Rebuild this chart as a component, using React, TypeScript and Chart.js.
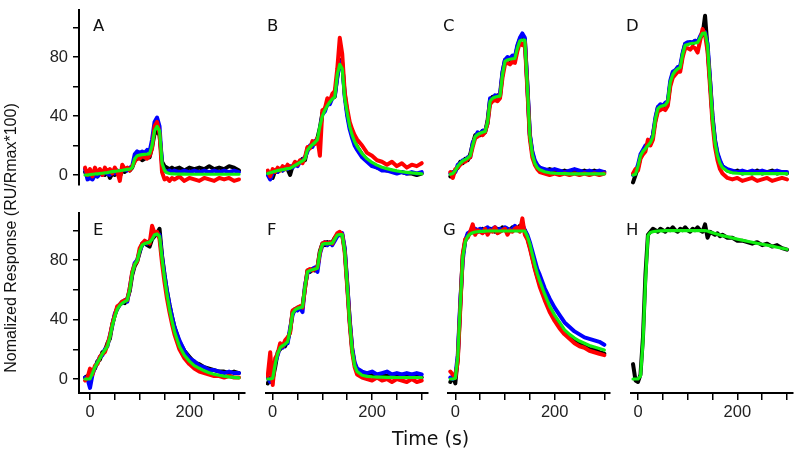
import React, { useEffect, useRef } from 'react';
import { Chart, registerables } from 'chart.js';

Chart.register(...registerables);

// time grid (s)
const T = [
  -10, -5, 0, 5, 10, 15, 20, 25, 30, 35,
  40, 45, 50, 55, 60, 65, 70, 75, 80, 85,
  90, 95, 100, 105, 110, 115, 120, 125, 130, 135,
  140, 145, 150, 155, 160, 165, 170, 180, 190, 200,
  210, 220, 230, 240, 250, 260, 270, 280, 290, 300,
];

const A_FIT = [
  0, 0, 0.3, 0.5, 0.7, 0.8, 1, 1.2, 1.4, 1.6,
  2, 2.3, 2.5, 2.7, 3, 3.2, 3.5, 3.8, 4, 5,
  11, 13, 13.5, 13.8, 14, 14.2, 14.5, 20, 30, 33,
  30, 8, 3, 1.5, 1, 0.8, 0.7, 0.6, 0.6, 0.5,
  0.5, 0.5, 0.5, 0.5, 0.5, 0.5, 0.5, 0.5, 0.5, 0.5,
];
const A_BLACK = [
  2, -1, 1, 0, 2, -1, 1, 2, 0, 3,
  -2, 1, 0, 2, -1, 3, 2, 4, 3, 5,
  10, 11, 12, 10, 11, 13, 12, 19, 28, 30,
  27, 9, 6, 5, 4, 5, 4, 5, 3, 5,
  4, 5, 4, 6, 4, 5, 4, 6, 5, 3,
];
const A_BLUE = [
  4, -3, -2, -3, 0, -1, 1, 0, 2, 1,
  0, 2, 1, 3, 2, 3, 4, 3, 5, 6,
  14, 16, 15, 16, 15, 17, 16, 24, 36, 39,
  33, 7, 3, 2, 3, 2, 3, 2, 3, 2,
  3, 2, 3, 2, 3, 2, 3, 2, 3, 2,
];
const A_RED = [
  5, 0, 4, -1, 5, 1, 4, 0, 5, 2,
  4, 1, 5, 2, -4, 7, 4, 5, 3, 6,
  9, 12, 11, 13, 12, 11, 13, 18, 33, 36,
  28, 2, -3, -2, -4, -2, -3, -1, -4, -2,
  -3, -4, -2, -3, -4, -2, -3, -2, -4, -3,
];

const B_FIT = [
  1, 1.5, 2, 2.5, 3, 3.3, 3.6, 4, 4.3, 4.6,
  5.5, 6.5, 7.5, 8.5, 9.5, 11, 17, 19, 20.5, 22,
  24, 33, 40, 44, 47, 49.5, 51.5, 53, 68, 75,
  72, 52, 42, 33, 27, 22.5, 19.5, 14.5, 11, 8.5,
  6.7, 5.3, 4.3, 3.5, 2.8, 2.2, 1.8, 1.4, 1.1, 0.8,
];
const B_BLACK = [
  1, 0, -2, 3, 2, 4, 3, 5, 4, 0,
  6, 7, 8, 9, 11, 10, 18, 19, 21, 22,
  25, 32, 42, 45, 48, 50, 52, 53, 67, 78,
  75, 55, 42, 33, 27, 22, 19, 14, 10, 7,
  5, 4, 3, 3, 2, 2, 1, 1, 0, 1,
];
const B_BLUE = [
  0, -3, 1, 3, 2, 4, 3, 5, 4, 6,
  5, 7, 6, 9, 10, 12, 16, 20, 19, 23,
  22, 30, 41, 43, 48, 48, 52, 54, 66, 77,
  76, 53, 40, 31, 25, 20, 17, 12, 9, 6,
  5, 3, 3, 2, 1, 2, 1, 2, 1, 2,
];
const B_RED = [
  3, -1, 4, 2, 5, 3, 6, 4, 7, 5,
  6, 9, 7, 10, 8, 12, 19, 18, 23, 21,
  25, 13, 44, 45, 52, 50, 55, 57, 72, 93,
  82, 56, 45, 36, 31, 27, 24, 20, 15, 13,
  10, 9, 7, 9, 6, 8, 5, 7, 6, 8,
];

const C_FIT = [
  0.5, 1, 3, 6, 8, 9.5, 10.5, 11.5, 13, 20,
  26, 27.5, 28.3, 29, 29.5, 36, 50, 52, 52.8, 53.2,
  53.5, 68, 77, 78, 78.5, 78.8, 79, 86, 91, 91.5,
  91.5, 60, 27, 14, 8, 5, 3.5, 2.2, 1.5, 1.2,
  1, 0.9, 0.8, 0.8, 0.7, 0.7, 0.7, 0.7, 0.7, 0.7,
];
const C_BLACK = [
  -1, 0, 3, 5, 9, 8, 11, 10, 14, 21,
  27, 28, 27, 30, 29, 37, 51, 53, 52, 54,
  53, 69, 78, 79, 78, 80, 79, 87, 92, 93,
  92, 61, 27, 15, 9, 6, 5, 3, 4, 3,
  2, 3, 2, 3, 2, 3, 2, 3, 2, 2,
];
const C_BLUE = [
  1, 2, 2, 7, 8, 10, 10, 12, 12, 22,
  25, 29, 28, 30, 30, 35, 52, 51, 54, 53,
  55, 70, 78, 80, 79, 81, 80, 88, 93, 96,
  93, 62, 28, 16, 10, 7, 5, 4, 3, 4,
  3, 2, 3, 4, 3, 2, 3, 2, 3, 2,
];
const C_RED = [
  2, -2, 4, 5, 7, 9, 9, 11, 12, 19,
  25, 26, 28, 27, 29, 35, 48, 50, 51, 50,
  52, 66, 75, 76, 75, 77, 76, 84, 90, 88,
  90, 58, 25, 12, 7, 4, 2, 1, 0, 1,
  0, 1, 0, 1, 0, 1, 0, 1, 0, 1,
];

const D_FIT = [
  0, 0.5, 6, 13, 16, 18, 20, 22, 26, 38,
  45, 46.5, 47, 47.5, 50, 63, 68, 70.5, 72, 73,
  82, 88, 88.5, 89, 89.3, 89.5, 89.8, 93, 96, 96.3,
  88, 63, 38, 22, 13, 8, 5, 2.5, 1.5, 1.2,
  1, 1, 1, 1, 1, 1, 1, 1, 1, 1,
];
const D_BLACK = [
  -5, 0, 5, 12, 15, 19, 21, 21, 27, 37,
  46, 47, 46, 48, 49, 62, 69, 70, 73, 72,
  82, 89, 89, 90, 89, 91, 90, 93, 95, 108,
  86, 64, 39, 23, 14, 9, 6, 3, 2, 3,
  1, 2, 1, 3, 1, 2, 3, 1, 2, 1,
];
const D_BLUE = [
  0, 2, 7, 14, 17, 20, 21, 23, 27, 39,
  46, 48, 47, 49, 50, 64, 70, 71, 73, 74,
  83, 89, 90, 90, 90, 91, 90, 94, 97, 97,
  89, 65, 40, 24, 15, 10, 6, 4, 3, 2,
  3, 2, 3, 2, 3, 2, 2, 3, 2, 2,
];
const D_RED = [
  1, 4, 3, 11, 14, 16, 24, 20, 24, 36,
  43, 44, 45, 44, 47, 60, 66, 68, 70, 70,
  80, 86, 86, 85, 87, 86, 83, 91, 99, 95,
  84, 60, 35, 19, 10, 4, 1, -2, -3, -2,
  -4, -3, -2, -4, -3, -2, -4, -3, -2, -3,
];

const E_FIT = [
  0, 0, 0, 4, 8, 11, 14, 17, 19.5, 22,
  28, 36, 42, 47, 49.5, 51, 52, 53, 60, 71,
  77, 79.5, 86, 90, 91, 91.5, 92, 94, 97, 97.5,
  96, 81, 68, 57, 47, 39, 32, 22, 16, 12,
  9, 7.2, 5.5, 4.2, 3.2, 2.5, 1.9, 1.4, 1.1, 0.8,
];
const E_BLACK = [
  1, 2, -2, 5, 7, 12, 13, 18, 19, 24,
  27, 37, 43, 48, 50, 52, 51, 54, 59, 70,
  76, 79, 85, 91, 92, 90, 89, 94, 96, 98,
  101, 83, 70, 59, 50, 42, 35, 25, 19, 15,
  11, 10, 8, 7, 6, 5, 5, 4, 5, 4,
];
const E_BLUE = [
  1, 0, -6, 3, 8, 11, 15, 16, 20, 22,
  29, 36, 44, 47, 50, 51, 53, 52, 61, 71,
  78, 80, 86, 90, 92, 91, 93, 95, 97, 98,
  97, 82, 70, 59, 50, 42, 35, 26, 19, 14,
  12, 9, 8, 6, 6, 5, 4, 5, 4, 4,
];
const E_RED = [
  -1, 1, 7, 3, 9, 10, 15, 17, 18, 23,
  29, 37, 43, 49, 50, 52, 53, 53, 61, 72,
  77, 79, 88, 91, 93, 92, 91, 103, 98, 99,
  94, 78, 65, 54, 45, 37, 30, 20, 14, 10,
  7, 5, 4, 3, 2, 2, 1, 2, 1, 1,
];

const F_FIT = [
  0, 0, 0.5, 10, 17, 21, 22.5, 23.5, 25, 33,
  44, 46.5, 47.5, 48, 48.5, 62, 72, 73, 73.5, 74,
  74.5, 85, 90.5, 91, 91, 91.2, 91.3, 94, 96.8, 97,
  97, 86, 63, 38, 19, 9, 5, 2.5, 1.8, 1.5,
  1.3, 1.2, 1.1, 1.1, 1, 1, 1, 1, 1, 1,
];
const F_BLACK = [
  -3, 1, 0, 8, 18, 20, 23, 22, 26, 32,
  45, 46, 48, 47, 49, 61, 73, 72, 74, 73,
  75, 86, 91, 90, 92, 91, 92, 95, 97, 98,
  97, 87, 64, 39, 20, 10, 6, 3, 2, 3,
  2, 3, 2, 2, 3, 2, 2, 1, 2, 1,
];
const F_BLUE = [
  1, -2, 1, 11, 16, 22, 21, 24, 24, 34,
  43, 47, 46, 48, 45, 63, 71, 73, 74, 75,
  72, 84, 90, 92, 90, 92, 90, 93, 96, 97,
  98, 88, 65, 40, 21, 11, 7, 5, 4, 5,
  3, 4, 5, 3, 4, 3, 4, 3, 4, 3,
];
const F_RED = [
  2, 18, -4, 14, 17, 24, 22, 26, 28, 31,
  46, 47, 48, 49, 48, 61, 73, 74, 73, 74,
  75, 85, 91, 92, 91, 92, 91, 95, 98, 99,
  97, 85, 62, 37, 18, 8, 3, 1, 0, -1,
  1, -1, 0, -2, 0, -1, -2, 0, -2, -1,
];

const G_FIT = [
  0, 0, 0.5, 15, 50, 82, 92, 96, 97.5, 98.3,
  98.8, 99, 99.2, 99.3, 99.4, 99.5, 99.5, 99.5, 99.5, 99.5,
  99.5, 99.5, 99.5, 99.5, 99.5, 99.5, 99.5, 99.5, 99.5, 99.5,
  99.5, 96, 91, 84, 77, 71, 66, 57, 49, 43,
  38, 33, 30, 27.5, 25.5, 24, 22.5, 21.5, 20.5, 19.5,
];
const G_BLACK = [
  -2, 2, -3, 14, 49, 83, 93, 97, 98, 99,
  100, 99, 100, 101, 99, 100, 101, 100, 99, 101,
  100, 102, 100, 101, 100, 102, 101, 100, 103, 101,
  100, 95, 89, 82, 75, 69, 64, 55, 47, 41,
  36, 31, 28, 26, 24, 22, 20, 20, 18, 17,
];
const G_BLUE = [
  1, 0, 2, 16, 52, 80, 93, 98, 99, 100,
  101, 100, 101, 100, 101, 102, 100, 101, 102, 100,
  101, 100, 102, 101, 100, 101, 103, 101, 100, 104,
  100, 97, 92, 86, 80, 74, 70, 61, 54, 48,
  43, 38, 35, 32, 30, 28, 27, 26, 25, 23,
];
const G_RED = [
  5, 3, 1, 12, 47, 84, 94, 95, 99, 104,
  97, 100, 99, 98, 101, 97, 100, 99, 102, 98,
  99, 100, 101, 97, 100, 99, 101, 102, 99, 108,
  97, 94, 88, 81, 74, 68, 62, 53, 45, 39,
  34, 30, 27, 24, 22, 21, 19, 18, 17, 16,
];

const H_FIT = [
  0, 0, 0, 2, 25, 65, 96.5, 98.5, 99, 99.3,
  99.5, 99.6, 99.6, 99.7, 99.7, 99.7, 99.7, 99.7, 99.7, 99.7,
  99.7, 99.7, 99.7, 99.7, 99.7, 99.7, 99.7, 99.7, 99.7, 99.7,
  99.5, 98.8, 98.3, 97.8, 97.3, 96.8, 96.4, 95.6, 94.8, 94,
  93.3, 92.6, 91.9, 91.2, 90.6, 90, 89.3, 88.6, 87.9, 87.2,
];
const H_BLACK = [
  10, -1, -2, 3, 28, 70, 97, 99, 101, 100,
  99, 101, 100, 99, 101, 100, 102, 100, 99, 101,
  100, 102, 100, 99, 101, 100, 102, 100, 99, 104,
  95, 99, 98, 97, 98, 96, 97, 95, 95, 93,
  93, 92, 91, 92, 90, 91, 89, 90, 88, 87,
];

const X_TICKS = [0, 50, 100, 150, 200, 250, 300];
const X_LABELS = [0, 200];
const Y_TICKS = [0, 20, 40, 60, 80, 100];
const Y_LABELS = [0, 40, 80];

const COLORS = { black: '#000000', blue: '#0000ff', red: '#ff0000', fit: '#11ee11' };

type PanelDef = {
  label: string;
  col: number;
  row: number;
  fit: number[];
  black?: number[];
  blue?: number[];
  red?: number[];
};

const PANELS: PanelDef[] = [
  { label: 'A', col: 0, row: 0, fit: A_FIT, black: A_BLACK, blue: A_BLUE, red: A_RED },
  { label: 'B', col: 1, row: 0, fit: B_FIT, black: B_BLACK, blue: B_BLUE, red: B_RED },
  { label: 'C', col: 2, row: 0, fit: C_FIT, black: C_BLACK, blue: C_BLUE, red: C_RED },
  { label: 'D', col: 3, row: 0, fit: D_FIT, black: D_BLACK, blue: D_BLUE, red: D_RED },
  { label: 'E', col: 0, row: 1, fit: E_FIT, black: E_BLACK, blue: E_BLUE, red: E_RED },
  { label: 'F', col: 1, row: 1, fit: F_FIT, black: F_BLACK, blue: F_BLUE, red: F_RED },
  { label: 'G', col: 2, row: 1, fit: G_FIT, black: G_BLACK, blue: G_BLUE, red: G_RED },
  { label: 'H', col: 3, row: 1, fit: H_FIT, black: H_BLACK },
];

// layout (pixels)
const COL_ZERO = [90, 272.7, 455.3, 638];
const COL_LEFT = [79, 266, 448, 631];
const COL_RIGHT = [245, 428, 610, 793];
const PX_PER_S = 0.4967;
const ROWS = [
  { top: 10, bottom: 185, zero: 175, perUnit: 1.475 },
  { top: 213, bottom: 393, zero: 379, perUnit: 1.4875 },
];
const PAD = 24;
const YW = 40;
const XH = 40;
const LETTER_X = [93, 267, 443, 626];
const LETTER_Y = [18, 222];

const TICK_FONT = { family: '"Liberation Sans", Arial, sans-serif', size: 16.5 };

function Panel({ p }: { p: PanelDef }) {
  const ref = useRef<HTMLCanvasElement | null>(null);
  const showY = p.col === 0;
  const showX = p.row === 1;
  const row = ROWS[p.row];
  const left = COL_LEFT[p.col];
  const right = COL_RIGHT[p.col];
  const canvasLeft = left - PAD - (showY ? YW : 0);
  const canvasTop = row.top - PAD;
  const w = right - left + 2 * PAD + (showY ? YW : 0);
  const h = row.bottom - row.top + 2 * PAD + (showX ? XH : 0);

  useEffect(() => {
    if (!ref.current) return;
    const xmin = (left - COL_ZERO[p.col]) / PX_PER_S;
    const xmax = (right - COL_ZERO[p.col]) / PX_PER_S;
    const ymax = (row.zero - row.top) / row.perUnit;
    const ymin = (row.zero - row.bottom) / row.perUnit;
    const mk = (vals: number[]) => T.map((t, i) => ({ x: t, y: vals[i] }));
    const datasets: any[] = [];
    const base = { pointRadius: 0, fill: false, tension: 0, borderJoinStyle: 'round', borderCapStyle: 'round' };
    datasets.push({ ...base, data: mk(p.fit), borderColor: COLORS.fit, borderWidth: 3.2, order: 0 });
    if (p.red) datasets.push({ ...base, data: mk(p.red), borderColor: COLORS.red, borderWidth: 4, order: 1 });
    if (p.blue) datasets.push({ ...base, data: mk(p.blue), borderColor: COLORS.blue, borderWidth: 4, order: 2 });
    if (p.black) datasets.push({ ...base, data: mk(p.black), borderColor: COLORS.black, borderWidth: 4, order: 3 });

    const chart = new Chart(ref.current, {
      type: 'line',
      data: { datasets },
      options: {
        responsive: false,
        animation: false,
        devicePixelRatio: 1,
        events: [],
        layout: { padding: PAD },
        plugins: { legend: { display: false }, tooltip: { enabled: false }, title: { display: false } },
        scales: {
          x: {
            type: 'linear',
            min: xmin,
            max: xmax,
            display: showX,
            position: 'bottom',
            border: { display: true, color: '#000', width: 2 },
            grid: { display: true, drawOnChartArea: false, drawTicks: true, tickLength: 7, tickColor: '#000', lineWidth: 1.5, tickWidth: 1.5 },
            ticks: {
              padding: 3,
              color: '#222',
              font: TICK_FONT,
              maxRotation: 0,
              autoSkip: false,
              callback: (v: any) => (X_LABELS.includes(Number(v)) ? String(v) : ''),
            },
            afterBuildTicks: (s: any) => {
              s.ticks = X_TICKS.map((v) => ({ value: v }));
            },
            afterFit: (s: any) => {
              if (showX) s.height = XH;
            },
          },
          y: {
            type: 'linear',
            min: ymin,
            max: ymax,
            display: showY,
            position: 'left',
            border: { display: true, color: '#000', width: 2 },
            grid: { display: true, drawOnChartArea: false, drawTicks: true, tickLength: 6, tickColor: '#000', lineWidth: 1.5, tickWidth: 1.5 },
            ticks: {
              padding: 5,
              color: '#222',
              font: TICK_FONT,
              autoSkip: false,
              callback: (v: any) => (Y_LABELS.includes(Number(v)) ? String(v) : ''),
            },
            afterBuildTicks: (s: any) => {
              s.ticks = Y_TICKS.map((v) => ({ value: v }));
            },
            afterFit: (s: any) => {
              if (showY) s.width = YW;
            },
          },
        },
      } as any,
    });
    return () => chart.destroy();
  }, []);

  return (
    <canvas
      ref={ref}
      width={w}
      height={h}
      style={{ position: 'absolute', left: canvasLeft, top: canvasTop, width: w, height: h }}
    />
  );
}

export default function App() {
  return (
    <div
      style={{
        position: 'fixed',
        left: 0,
        top: 0,
        width: 800,
        height: 459,
        background: '#ffffff',
        overflow: 'hidden',
      }}
    >
      {PANELS.map((p) => (
        <Panel key={p.label} p={p} />
      ))}
      {PANELS.map((p) => (
        <div
          key={'lbl' + p.label}
          style={{
            position: 'absolute',
            left: LETTER_X[p.col],
            top: LETTER_Y[p.row],
            fontFamily: '"DejaVu Sans"',
            fontSize: 16.5,
            lineHeight: '16.5px',
            color: '#111',
          }}
        >
          {p.label}
        </div>
      ))}
      <div
        style={{
          position: 'absolute',
          left: 392,
          top: 429,
          fontFamily: '"DejaVu Sans"',
          fontSize: 19,
          lineHeight: '19px',
          color: '#111',
          whiteSpace: 'nowrap',
        }}
      >
        Time (s)
      </div>
      <div
        style={{
          position: 'absolute',
          left: 11.3 - 160,
          top: 237.5 - 10,
          width: 320,
          height: 20,
          lineHeight: '20px',
          textAlign: 'center',
          transform: 'rotate(-90deg)',
          fontFamily: '"Liberation Sans"',
          fontSize: 16,
          color: '#111',
          whiteSpace: 'nowrap',
        }}
      >
        Nomalized Response (RU/Rmax*100)
      </div>
    </div>
  );
}
